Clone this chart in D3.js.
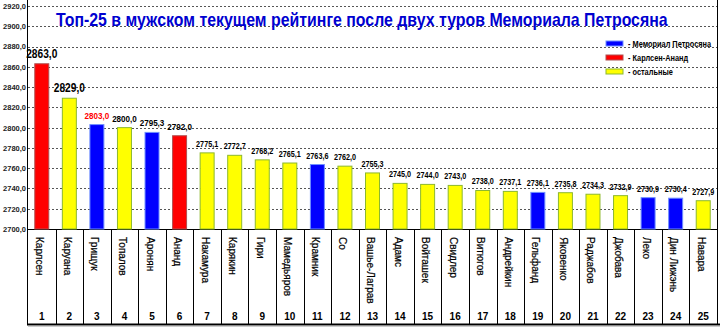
<!DOCTYPE html>
<html><head><meta charset="utf-8">
<script src="https://cdn.jsdelivr.net/npm/d3@7"></script>
<style>body{margin:0;background:#fff}svg{display:block;font-family:Arial,"Liberation Sans",sans-serif}</style>
</head><body><svg id="c" width="723" height="332"></svg>
<script>
const ranks = d3.range(1, 26);
const names = ["Карлсен","Каруана","Грищук","Топалов","Аронян","Ананд","Накамура","Карякин","Гири","Мамедьяров","Крамник","Со","Вашье-Лаграв","Адамс","Войташек","Свидлер","Витюгов","Андрейкин","Гельфанд","Яковенко","Раджабов","Джобава","Леко","Дин Лижэнь","Навара"];
const ratings = [2863.0,2829.0,2803.0,2800.0,2795.3,2792.0,2775.1,2772.7,2768.2,2765.1,2763.6,2762.0,2755.3,2745.0,2744.0,2743.0,2738.0,2737.1,2736.1,2735.8,2734.3,2732.9,2730.9,2730.4,2727.9];
const groups = ["ka","o","mp","o","mp","ka","o","o","o","o","mp","o","o","o","o","o","o","o","mp","o","o","o","mp","mp","o"];
const legendKeys = ["mp","ka","o"];
const legendLabels = ["- Мемориал Петросяна","- Карлсен-Ананд","- остальные"];
const yTicks = d3.range(2700, 2921, 20);
const title = "Топ-25 в мужском текущем рейтинге после двух туров Мемориала Петросяна";

const fill = {mp:"#0000ff", ka:"#ff0000", o:"#ffff00"};
const stroke = {mp:"#6f8fff", ka:"#b05050", o:"#8db82e"};

const svg = d3.select("#c");
const L = 28, R = 717, T = 6, B = 229, BOT = 324;
const x = d3.scaleBand().domain(ranks).range([L, R]).paddingInner(0.456).paddingOuter(0.228);
const y = d3.scaleLinear().domain([2700, 2920]).range([B, T]);
const fmt = v => d3.format(".1f")(v).replace(".", ",");

// gridlines
svg.append("g").selectAll("line").data(yTicks.filter(t => t > 2700)).join("line")
  .attr("x1", L).attr("x2", R).attr("y1", d => Math.round(y(d)) + 0.5).attr("y2", d => Math.round(y(d)) + 0.5)
  .attr("stroke", "#555").attr("stroke-dasharray", "2,2").attr("stroke-width", 1);

// y axis
const yAxis = d3.axisLeft(y).tickValues(yTicks).tickFormat(fmt).tickSize(0).tickPadding(2);
const ga = svg.append("g").attr("transform", `translate(${L},0)`).call(yAxis);
ga.select(".domain").remove();
ga.selectAll("text").attr("font-size", 7.5).attr("font-weight", "bold").attr("fill", "#222")
  .attr("font-family", "Arial, 'Liberation Sans', sans-serif");

// axis lines / frame
svg.append("line").attr("x1", L - 0.5).attr("x2", L - 0.5).attr("y1", 0).attr("y2", BOT).attr("stroke", "#000");
svg.append("line").attr("x1", R + 0.5).attr("x2", R + 0.5).attr("y1", 0).attr("y2", BOT).attr("stroke", "#000");
svg.append("line").attr("x1", L).attr("x2", R).attr("y1", B + 0.5).attr("y2", B + 0.5).attr("stroke", "#000");

// table separators
const step = x.step();
svg.append("g").selectAll("line").data(d3.range(1, 25)).join("line")
  .attr("x1", i => Math.round(L + i * step) + 0.5).attr("x2", i => Math.round(L + i * step) + 0.5)
  .attr("y1", B).attr("y2", BOT).attr("stroke", "#000");
svg.append("line").attr("x1", L - 1).attr("x2", R + 3).attr("y1", BOT + 0.5).attr("y2", BOT + 0.5).attr("stroke", "#000").attr("stroke-width", 2);
svg.append("line").attr("x1", L).attr("x2", R + 3).attr("y1", BOT + 2).attr("y2", BOT + 2).attr("stroke", "#999").attr("stroke-width", 1);

// bars
svg.append("g").selectAll("rect").data(ranks).join("rect")
  .attr("x", d => x(d) + 0.5).attr("width", x.bandwidth() - 1)
  .attr("y", (d, i) => y(ratings[i])).attr("height", (d, i) => B - y(ratings[i]))
  .attr("fill", (d, i) => fill[groups[i]]).attr("stroke", (d, i) => stroke[groups[i]]).attr("stroke-width", 1);

// value labels
svg.append("g").selectAll("text").data(ranks).join("text")
  .attr("transform", (d, i) => `translate(${x(d) + x.bandwidth() / 2},${y(ratings[i]) - 6}) scale(0.85,1)`)
  .attr("text-anchor", "middle").attr("font-weight", "bold")
  .attr("font-size", (d, i) => i < 2 ? 12 : (i < 6 ? 9.5 : 8.5))
  .attr("fill", (d, i) => i === 2 ? "#ff0000" : "#000")
  .text((d, i) => fmt(ratings[i]));

// names
svg.append("g").selectAll("text").data(ranks).join("text")
  .attr("transform", d => `translate(${x(d) + x.bandwidth() / 2 - 2},237) rotate(90)`)
  .attr("dominant-baseline", "central").attr("font-size", 10).attr("fill", "#000")
  .attr("stroke", "#000").attr("stroke-width", 0.2)
  .text((d, i) => names[i]);

// rank numbers
svg.append("g").selectAll("text").data(ranks).join("text")
  .attr("x", d => x(d) + x.bandwidth() / 2).attr("y", 320)
  .attr("text-anchor", "middle").attr("font-size", 10).attr("font-weight", "bold")
  .text(d => d);

// title (compressed horizontally like the reference)
const tt = svg.append("text").attr("font-size", 18).attr("font-weight", "bold")
  .attr("fill", "#0000d0").text(title);
const tw = tt.node().getComputedTextLength();
tt.attr("transform", `translate(56,26) scale(${612 / tw},1)`);

// legend
const lg = svg.append("g").selectAll("g").data(legendKeys).join("g")
  .attr("transform", (d, i) => `translate(606,${41 + i * 14})`);
lg.append("rect").attr("width", 17).attr("height", 5).attr("fill", d => fill[d]).attr("stroke", d => stroke[d]);
lg.append("text").attr("font-size", 9).attr("font-weight", "bold")
  .text((d, i) => legendLabels[i])
  .each(function (d, i) {
    const w = this.getComputedTextLength();
    const k = Math.min(1, 88 / 0 || 1);
    this.setAttribute("transform", `translate(22,5.5) scale(0.82,1)`);
  });
</script></body></html>
